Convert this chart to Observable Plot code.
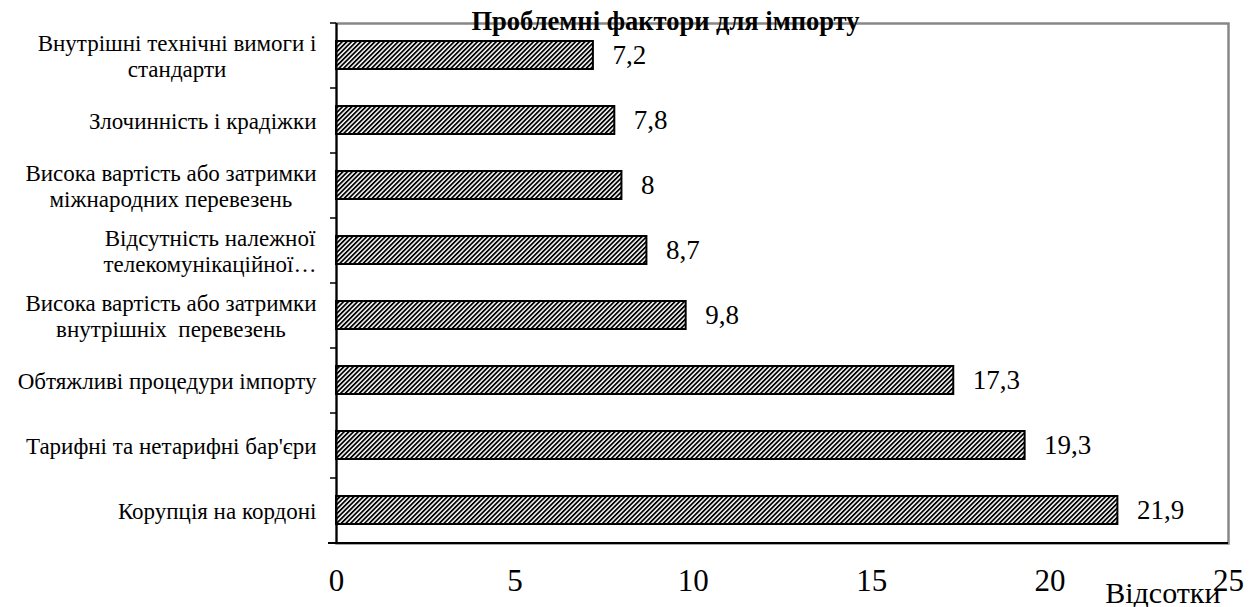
<!DOCTYPE html>
<html><head><meta charset="utf-8">
<script src="https://cdn.jsdelivr.net/npm/d3@7"></script>
<script src="https://cdn.jsdelivr.net/npm/@observablehq/plot@0.6"></script>
<style>body{margin:0;background:#fff} svg{display:block}</style>
</head><body>
<svg width="0" height="0" style="position:absolute">
  <defs>
    <pattern id="hatch" patternUnits="userSpaceOnUse" width="3.3" height="3.3" patternTransform="rotate(45)">
      <rect width="3.3" height="3.3" fill="white"></rect>
      <rect width="1.8" height="3.3" fill="black"></rect>
    </pattern>
  </defs>
</svg>
<div id="chart"></div>
<script>
const categories = [
  "Внутрішні технічні вимоги і\nстандарти",
  "Злочинність і крадіжки",
  "Висока вартість або затримки\nміжнародних перевезень",
  "Відсутність належної\nтелекомунікаційної…",
  "Висока вартість або затримки\nвнутрішніх  перевезень",
  "Обтяжливі процедури імпорту",
  "Тарифні та нетарифні бар'єри",
  "Корупція на кордоні"
];
const values = [7.2, 7.8, 8, 8.7, 9.8, 17.3, 19.3, 21.9];
const valueLabels = ["7,2", "7,8", "8", "8,7", "9,8", "17,3", "19,3", "21,9"];
const xTicks = [0, 5, 10, 15, 20, 25];
const title = "Проблемні фактори для імпорту";
const xLabel = "Відсотки";

const W = 1259, H = 607, mt = 23, mb = 64, ml = 336, mr = 31;
const FONT = "Liberation Serif, Times New Roman, serif";
const catSize = 23, valSize = 27, tickSize = 31, labelSize = 30, titleSize = 26.5;

const data = categories.map((c, i) => ({cat: c, value: values[i], label: valueLabels[i]}));
const step = (H - mt - mb) / categories.length;
const lastCat = categories[categories.length - 1];

const chart = Plot.plot({
  width: W, height: H,
  marginTop: mt, marginBottom: mb, marginLeft: ml, marginRight: mr,
  x: {domain: [0, 25], axis: null},
  y: {domain: categories, paddingInner: 0.565, paddingOuter: 0.2825, axis: null},
  marks: [
    Plot.frame({stroke: "#888", strokeWidth: 2.5}),
    Plot.barX(data, {x: "value", y: "cat", fill: "url(#hatch)", stroke: "black", strokeWidth: 2}),
    Plot.ruleX([0], {stroke: "black", strokeWidth: 2}),
    Plot.ruleY(categories, {y: d => d, x1: 0, x2: 0, insetLeft: -6, dy: -step / 2, stroke: "black", strokeWidth: 1.5}),
    Plot.ruleY([lastCat], {y: d => d, x1: 0, x2: 25, insetLeft: -8, dy: step / 2, stroke: "black", strokeWidth: 2}),
    Plot.ruleX(xTicks, {x: d => d, y1: lastCat, y2: lastCat, dy: step / 2, insetBottom: -10, stroke: "black", strokeWidth: 1.5}),
    Plot.text(xTicks, {x: d => d, text: d => String(d), frameAnchor: "bottom", lineAnchor: "middle", dy: 38, fontSize: tickSize, fontWeight: 400, fontFamily: FONT, fill: "black"}),
    Plot.text(data, {x: "value", y: "cat", text: "label", textAnchor: "start", dx: 19, fontSize: valSize, fontWeight: 400, fontFamily: FONT, fill: "black"}),
    Plot.text(categories, {y: d => d, frameAnchor: "left", textAnchor: "end", dx: -20,
      fontSize: catSize, fontWeight: 400, fontFamily: FONT, lineHeight: 1.13, fill: "black", ariaDescription: "category-labels"}),
    Plot.text([xLabel], {frameAnchor: "bottom-right", textAnchor: "end", lineAnchor: "middle", dx: -8, dy: 50, fontSize: labelSize, fontWeight: 400, fontFamily: FONT, fill: "black"}),
    Plot.text([title], {frameAnchor: "top", lineAnchor: "middle", dx: -117, dy: -1.5, fontSize: titleSize, fontFamily: FONT, fontWeight: "bold", fill: "black"})
  ]
});

document.getElementById("chart").append(chart);

// center the lines of each multi-line category label within its right-aligned block
d3.select(chart).selectAll('g[aria-description="category-labels"] text').each(function() {
  const spans = this.querySelectorAll("tspan");
  if (spans.length < 2) return;
  const w = d3.max(Array.from(spans), s => s.getComputedTextLength());
  this.setAttribute("text-anchor", "middle");
  spans.forEach(s => s.setAttribute("x", -w / 2));
});
</script>
</body></html>
